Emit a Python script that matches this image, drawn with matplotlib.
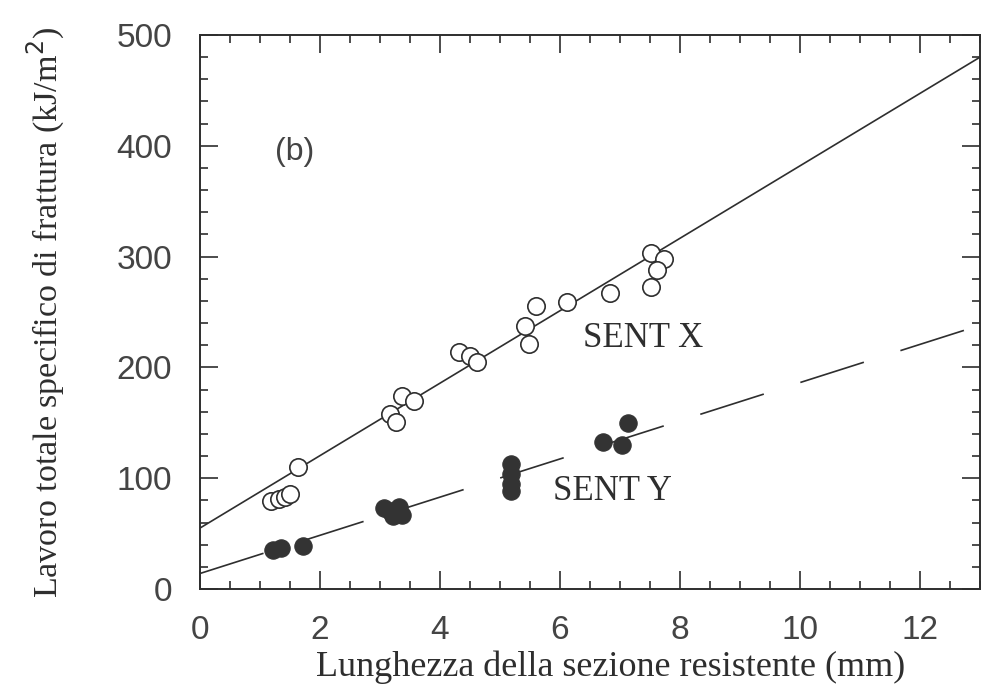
import matplotlib
matplotlib.use("Agg")
import matplotlib.pyplot as plt
from matplotlib.ticker import MultipleLocator

# SENT X (open circles)
sentx_x = [1.19, 1.31, 1.42, 1.50, 1.63, 3.17, 3.27, 3.36, 3.56, 4.32, 4.50, 4.61,
           5.41, 5.49, 5.60, 6.12, 6.83, 7.51, 7.74, 7.62, 7.52]
sentx_y = [79, 81, 83, 86, 110, 158, 151, 174, 170, 214, 210, 205,
           237, 221, 255, 259, 267, 303, 298, 288, 273]

# SENT Y (filled circles)
senty_x = [1.22, 1.35, 1.72, 3.06, 3.17, 3.31, 3.36, 3.22, 5.19, 5.19, 5.19, 5.19,
           6.72, 7.03, 7.14]
senty_y = [35, 37, 39, 73, 70, 74, 67, 66, 113, 104, 88, 95, 133, 130, 150]

# fitted lines (end points)
line_x = [0, 13]
fit_x = [55, 480]
fit_y = [14, 238]

xticks = [0, 2, 4, 6, 8, 10, 12]
yticks = [0, 100, 200, 300, 400, 500]

ink = "#2e2e2e"

fig = plt.figure(figsize=(9.84, 6.98), dpi=100)
ax = fig.add_axes([200/984, 1-589/698, 780/984, (589-35)/698])

ax.plot(line_x, fit_x, color=ink, lw=1.2, solid_capstyle="butt")
dl, = ax.plot(line_x, fit_y, color=ink, lw=1.2)
dl.set_dashes((40, 23))

ax.plot(sentx_x, sentx_y, linestyle="none", marker="o", ms=12.5,
        mfc="white", mec=ink, mew=1.2, zorder=3)
ax.plot(senty_x, senty_y, linestyle="none", marker="o", ms=12.5,
        mfc="#333333", mec="#333333", mew=0.8, zorder=3)

ax.set_xlim(0, 13)
ax.set_ylim(0, 500)
ax.set_xticks(xticks)
ax.set_yticks(yticks)
ax.xaxis.set_minor_locator(MultipleLocator(0.5))
ax.yaxis.set_minor_locator(MultipleLocator(20))

for s in ax.spines.values():
    s.set_linewidth(1.4)
    s.set_color(ink)

ax.tick_params(which="both", direction="in", top=True, right=True,
               color=ink, width=1.2)
ax.tick_params(which="major", length=13)
ax.tick_params(which="minor", length=6)
ax.tick_params(axis="x", which="major", pad=19)
ax.tick_params(axis="y", which="major", pad=20)

for lab in ax.get_xticklabels() + ax.get_yticklabels():
    lab.set_fontfamily("Liberation Sans")
    lab.set_fontsize(24)
    lab.set_color("#444444")

ax.set_xlabel("Lunghezza della sezione resistente (mm)", family="Liberation Serif",
              fontsize=26, color=ink, labelpad=3)
ax.xaxis.label.set_x(0.526)
ax.set_ylabel("Lavoro totale specifico di frattura (kJ/m$^2$)", family="Liberation Serif",
              fontsize=24.5, color=ink, labelpad=36)

ax.text(1.25, 394, "(b)", family="Liberation Sans", fontsize=23, color="#444444",
        ha="left", va="center")
ax.text(7.38, 226, "SENT X", family="Liberation Serif", fontsize=25, color=ink,
        ha="center", va="center")
ax.text(6.88, 88, "SENT Y", family="Liberation Serif", fontsize=25, color=ink,
        ha="center", va="center")

fig.savefig("out.png", dpi=100)
